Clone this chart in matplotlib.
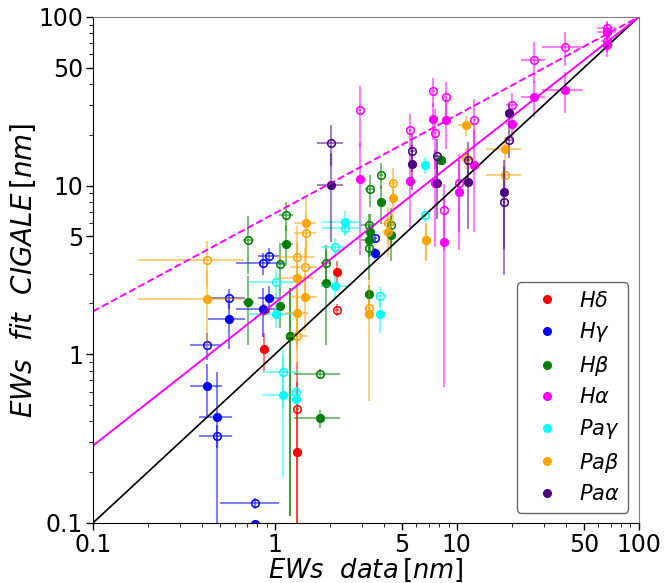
import numpy as np
import matplotlib
matplotlib.use('Agg')
import matplotlib.pyplot as plt
from matplotlib.lines import Line2D

# each line: x data, fit (filled), second fit (open), errors
hd_x = [0.867, 2.20, 1.33]
hd_xerr = [0.03, 0.05, 0.02]
hd_y = [1.07, 3.06, 0.262]
hd_yerr = [0.27, 0.5, 0.42]
hd_y2 = [1.83, 1.83, 0.476]
hd_y2err = [0.15, 0.15, 0.42]

hg_x = [0.426, 0.482, 0.559, 0.858, 0.929, 3.56, 0.779]
hg_xerr = [0.085, 0.1, 0.13, 0.25, 0.12, 0.1, 0.28]
hg_y = [0.652, 0.424, 1.62, 1.86, 2.15, 3.98, 0.098]
hg_yerr = [0.22, 0.36, 0.55, 0.6, 0.4, 0.3, 0.0]
hg_y2 = [1.13, 0.329, 2.15, 3.47, 3.85, 4.88, 0.131]
hg_y2err = [0.2, 0.05, 0.3, 0.5, 0.4, 0.3, 0.01]

hb_x = [0.716, 1.07, 1.15, 1.21, 1.90, 1.77, 3.32, 3.29, 3.30, 3.84, 4.33, 8.2]
hb_xerr = [0.05, 0.06, 0.1, 0.05, 0.1, 0.5, 0.2, 0.3, 0.05, 0.1, 0.2, 0.4]
hb_y = [2.03, 1.94, 4.53, 1.29, 2.64, 0.417, 5.3, 4.75, 2.27, 7.95, 5.06, 14.2]
hb_yerr = [0.9, 0.5, 1.2, 1.18, 1.5, 0.05, 1.5, 1.0, 0.3, 2.0, 1.5, 1.0]
hb_y2 = [4.79, 3.42, 6.66, 1.29, 3.46, 0.763, 9.5, 5.8, 4.25, 11.6, 5.86, 14.2]
hb_y2err = [1.8, 1.0, 1.3, 1.18, 1.0, 0.05, 2.0, 1.0, 1.5, 2.0, 1.5, 1.0]

ha_x = [2.93, 5.54, 7.39, 8.68, 7.6, 8.55, 10.3, 12.5, 20.1, 26.5, 39.2, 67.0, 67.0]
ha_xerr = [0.05, 0.1, 0.2, 0.2, 0.2, 0.1, 0.2, 0.3, 1.5, 4.0, 10.0, 8.0, 5.0]
ha_y = [10.9, 10.6, 24.7, 24.4, 10.3, 4.64, 9.15, 13.3, 23.1, 33.5, 37.1, 81.0, 68.0]
ha_yerr = [7.0, 5.0, 6.0, 8.0, 6.0, 4.0, 5.0, 8.0, 5.0, 8.0, 10.0, 12.0, 10.0]
ha_y2 = [28.0, 21.5, 36.4, 33.3, 20.6, 7.17, 10.3, 24.4, 30.2, 55.8, 66.0, 86.0, 72.0]
ha_y2err = [11.0, 5.0, 7.0, 8.0, 8.0, 3.0, 5.0, 8.0, 5.0, 15.0, 15.0, 8.0, 10.0]

pg_x = [1.02, 1.115, 1.30, 2.14, 2.42, 3.77, 6.66]
pg_xerr = [0.3, 0.25, 0.08, 0.35, 0.6, 0.1, 0.3]
pg_y = [1.73, 0.576, 0.54, 2.55, 6.11, 1.73, 13.2]
pg_yerr = [0.3, 0.39, 0.05, 0.4, 1.0, 0.4, 1.5]
pg_y2 = [2.67, 0.781, 0.60, 4.30, 5.63, 2.22, 6.65]
pg_y2err = [0.5, 0.3, 0.05, 0.6, 0.6, 0.3, 0.6]

pb_x = [0.426, 1.33, 1.33, 1.46, 1.48, 3.27, 4.17, 4.45, 6.75, 11.2, 18.5]
pb_xerr = [0.25, 0.3, 0.2, 0.25, 0.2, 0.1, 0.3, 0.2, 0.3, 1.0, 4.0]
pb_y = [2.12, 2.85, 1.75, 2.18, 6.0, 1.73, 5.29, 8.48, 4.78, 22.8, 16.5]
pb_yerr = [1.05, 1.8, 0.6, 0.8, 2.5, 1.2, 1.5, 2.5, 1.2, 3.0, 3.0]
pb_y2 = [3.62, 3.75, 1.28, 3.27, 5.21, 1.88, 6.0, 10.3, 4.78, 14.6, 11.5]
pb_y2err = [1.1, 2.0, 0.4, 1.0, 1.5, 0.2, 1.5, 2.5, 1.2, 2.0, 2.0]

pa_x = [2.04, 5.7, 7.74, 11.5, 18.2, 19.3]
pa_xerr = [0.34, 0.2, 0.3, 0.3, 0.3, 0.5]
pa_y = [10.1, 13.4, 10.35, 10.5, 9.2, 27.0]
pa_yerr = [5.5, 4.0, 4.0, 5.0, 5.0, 4.0]
pa_y2 = [18.0, 16.1, 15.0, 14.1, 7.94, 18.6]
pa_y2err = [5.0, 4.0, 4.0, 4.0, 5.0, 4.0]

# power-law fits log10(y) = a + b*log10(x)
fit_a = [0.305, 0.836]
fit_b = [0.847, 0.582]

lines = [
    (r'$H\delta$', 'red', hd_x, hd_xerr, hd_y, hd_yerr, hd_y2, hd_y2err),
    (r'$H\gamma$', 'blue', hg_x, hg_xerr, hg_y, hg_yerr, hg_y2, hg_y2err),
    (r'$H\beta$', 'green', hb_x, hb_xerr, hb_y, hb_yerr, hb_y2, hb_y2err),
    (r'$H\alpha$', 'magenta', ha_x, ha_xerr, ha_y, ha_yerr, ha_y2, ha_y2err),
    (r'$Pa\gamma$', 'cyan', pg_x, pg_xerr, pg_y, pg_yerr, pg_y2, pg_y2err),
    (r'$Pa\beta$', 'orange', pb_x, pb_xerr, pb_y, pb_yerr, pb_y2, pb_y2err),
    (r'$Pa\alpha$', 'indigo', pa_x, pa_xerr, pa_y, pa_yerr, pa_y2, pa_y2err),
]

fig = plt.figure(figsize=(6.64, 5.83), dpi=100)
ax = fig.add_axes([0.140, 0.103, 0.822, 0.868])

handles = []
for name, c, x, xe, y, ye, y2, ye2 in lines:
    ax.errorbar(x, y2, xerr=xe, yerr=ye2, fmt='o', mfc='none', mec=c, mew=1.0,
                ms=5.5, ecolor=c, elinewidth=1.5, alpha=0.5, capsize=0)
    ax.plot(x, y2, 'o', mfc='none', mec=c, mew=1.0, ms=5.5)
    ax.errorbar(x, y, xerr=xe, yerr=ye, fmt='o', color=c, ms=5.5,
                ecolor=c, elinewidth=1.5, alpha=0.5, capsize=0)
    ax.plot(x, y, 'o', color=c, ms=5.5)
    handles.append(Line2D([], [], marker='o', ls='none', color=c, ms=5.5, label=name))

xx = np.logspace(-1, 2, 50)
ax.plot(xx, xx, color='black', lw=1.2)
ax.plot(xx, 10**(fit_a[0] + fit_b[0]*np.log10(xx)), color='magenta', lw=1.4)
ax.plot(xx, 10**(fit_a[1] + fit_b[1]*np.log10(xx)), color='magenta', lw=1.4, ls='--')

ax.set_xscale('log')
ax.set_yscale('log')
ax.set_xlim(0.1, 100)
ax.set_ylim(0.1, 100)
ticks = [0.1, 1, 5, 10, 50, 100]
ticklabels = ['0.1', '1', '5', '10', '50', '100']
ax.set_xticks(ticks)
ax.set_xticklabels(ticklabels)
ax.set_yticks(ticks)
ax.set_yticklabels(ticklabels)
ax.tick_params(labelsize=17, length=5, width=1, pad=2)
ax.tick_params(which='minor', length=3)
for s in ['top', 'right']:
    ax.spines[s].set_color('grey')

ax.set_xlabel(r'$EWs\ \ data\,[nm]$', fontsize=18.5, labelpad=0)
ax.set_ylabel(r'$EWs\ \ fit\ \ CIGALE\,[nm]$', fontsize=20, labelpad=0)

ax.legend(handles=handles, loc='lower right', fontsize=15, labelspacing=0.46,
          handlelength=2.1, handletextpad=0.5, borderpad=0.4, borderaxespad=0.5,
          edgecolor='dimgrey', framealpha=1)

fig.savefig('out.png')
